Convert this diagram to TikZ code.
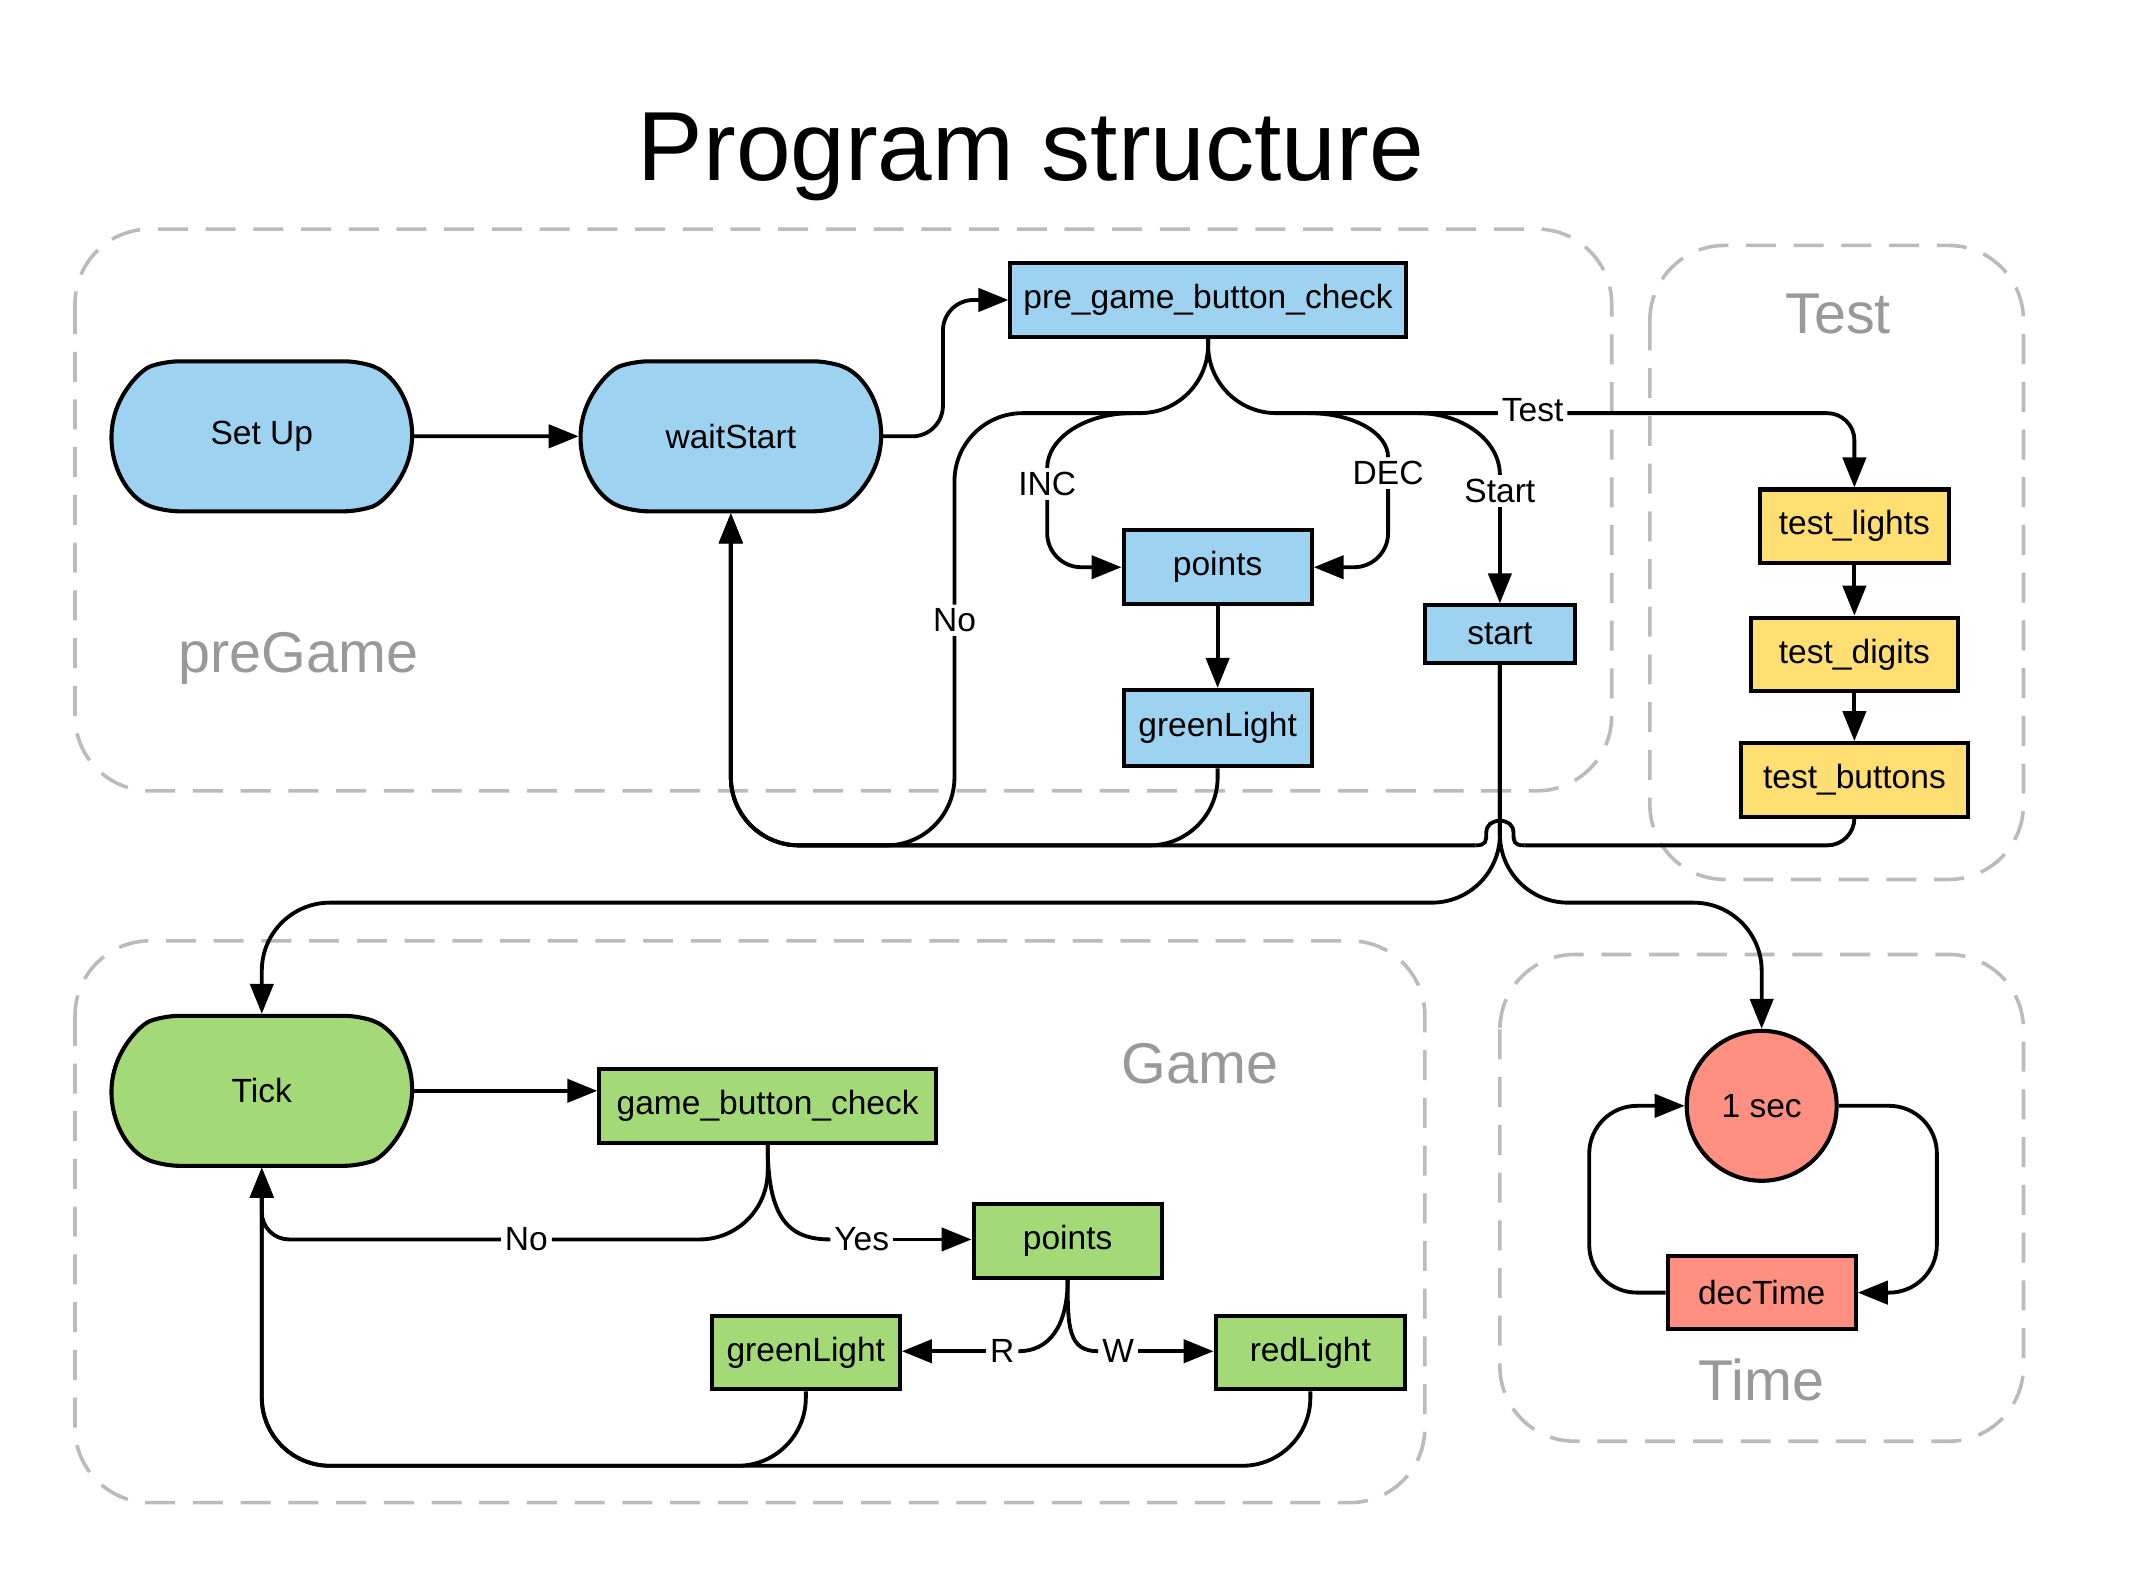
\documentclass[tikz,border=0pt]{standalone}
\usepackage{fontspec}
\setmainfont{Liberation Sans}
\usepackage{xcolor}
\usetikzlibrary{shapes.misc,arrows.meta,calc}

\definecolor{preblue}{HTML}{9DD3F1}
\definecolor{gamegreen}{HTML}{A3D977}
\definecolor{testyellow}{HTML}{FFDF71}
\definecolor{timesalmon}{HTML}{FF8F80}
\definecolor{groupgray}{HTML}{BBBBBB}
\definecolor{labelgray}{HTML}{999999}

\tikzset{
  txt/.style={font=\fontsize{14}{17}\selectfont},
  box/.style={rectangle, draw, line width=1.7pt, inner sep=0pt, minimum height=1.08cm, txt},
  pill/.style={rounded rectangle, rounded rectangle arc length=140, draw, line width=1.7pt,
    rounded corners=6pt, minimum width=4.64cm, minimum height=2.2cm, txt},
  grp/.style={draw=groupgray, line width=1.5pt, dash pattern=on 0.44cm off 0.26cm, rounded corners=1.1cm},
  grplabel/.style={text=labelgray, font=\fontsize{24}{29}\selectfont},
  lbl/.style={inner sep=1.5pt, txt},
  wire/.style={line width=1.6pt},
  arr/.style={line width=1.6pt, -{Triangle[length=0.44cm, width=0.34cm]}},
}

\begin{document}
\begin{tikzpicture}[x=0.02cm, y=-0.02cm]
  \useasboundingbox (0,0) rectangle (1568,1158);

  \node[font=\fontsize{41}{49}\selectfont] (title) at (756,115) {Program structure};

  \draw[grp] (55,168) rectangle (1182,580);
  \draw[grp] (1210,180) rectangle (1484,645);
  \draw[grp] (55,690) rectangle (1045,1102);
  \draw[grp] (1100,700) rectangle (1484,1057);
  \node[grplabel] (preGameLbl) at (219,483) {preGame};
  \node[grplabel] (testGrpLbl) at (1348,230) {Test};
  \node[grplabel] (gameLbl) at (880,780) {Game};
  \node[grplabel] (timeLbl) at (1292,1012) {Time};

  \node[pill, fill=preblue] (setup) at (192,320) {Set Up};
  \node[pill, fill=preblue] (waitStart) at (536,320) {waitStart};
  \node[box, fill=preblue, minimum width=5.8cm] (pgbc) at (886,220) {pre\_game\_button\_check};
  \node[box, fill=preblue, minimum width=2.76cm] (points) at (893,416) {points};
  \node[box, fill=preblue, minimum width=2.76cm, minimum height=1.12cm] (greenTop) at (893,534) {greenLight};
  \node[box, fill=preblue, minimum width=2.2cm, minimum height=0.84cm] (start) at (1100,465) {start};

  \node[box, fill=testyellow, minimum width=2.78cm] (tLights) at (1360,386) {test\_lights};
  \node[box, fill=testyellow, minimum width=3.04cm] (tDigits) at (1360,480) {test\_digits};
  \node[box, fill=testyellow, minimum width=3.32cm] (tButtons) at (1360,572) {test\_buttons};

  \node[pill, fill=gamegreen] (tick) at (192,800) {Tick};
  \node[box, fill=gamegreen, minimum width=4.94cm] (gbc) at (563,811) {game\_button\_check};
  \node[box, fill=gamegreen, minimum width=2.76cm] (pointsGame) at (783,910) {points};
  \node[box, fill=gamegreen, minimum width=2.76cm] (greenGame) at (591,992) {greenLight};
  \node[box, fill=gamegreen, minimum width=2.78cm] (redGame) at (961,992) {redLight};

  \node[circle, draw, line width=1.7pt, fill=timesalmon, minimum size=2.2cm, inner sep=0pt, txt] (sec) at (1292,811) {1 sec};
  \node[box, fill=timesalmon, minimum width=2.76cm] (decTime) at (1292,948) {decTime};

  \coordinate (topBus) at (0,303);
  \coordinate (backBus) at (0,620);
  \coordinate (splitBus) at (0,662);
  \coordinate (lowBus) at (0,1075);
  \coordinate (hop) at (start.south |- backBus);

  \node[lbl] (noLbl) at (700,455) {No};
  \node[lbl] (incLbl) at (768,355) {INC};
  \node[lbl] (decLbl) at (1018,347) {DEC};
  \node[lbl] (startLbl) at (1100,360) {Start};
  \node[lbl] (testLbl) at (1124,301) {Test};
  \node[lbl] (noGame) at (386,909) {No};
  \node[lbl] (yesGame) at (632,909) {Yes};
  \node[lbl] (rGame) at (735,991) {R};
  \node[lbl] (wGame) at (820,991) {W};

  \draw[arr] (setup) -- (waitStart);
  \draw[arr, rounded corners=0.45cm] (waitStart.east) -| ($(pgbc.west)+(-48,0)$) -- (pgbc.west);

  \draw[wire, rounded corners=1cm] (pgbc.south) |- (noLbl.north |- topBus) -- (noLbl.north);
  \draw[arr, rounded corners=1cm] (noLbl.south) |- (waitStart.south |- backBus) -- (waitStart.south);
  \draw[wire] ($(incLbl |- topBus)+(62,0)$) .. controls +(-34,0) and +(0,-22) .. (incLbl.north);
  \draw[arr, rounded corners=0.5cm] (incLbl.south) |- (points.west);
  \draw[wire, rounded corners=1cm] (pgbc.south) |- (testLbl.west |- topBus);
  \draw[arr, rounded corners=0.4cm] (testLbl.east |- topBus) -| (tLights.north);
  \draw[wire] ($(decLbl |- topBus)+(-58,0)$) .. controls +(32,0) and +(0,-18) .. (decLbl.north);
  \draw[arr, rounded corners=0.5cm] (decLbl.south) |- (points.east);
  \draw[wire] ($(startLbl |- topBus)+(-60,0)$) .. controls +(33,0) and +(0,-25) .. (startLbl.north);
  \draw[arr] (startLbl.south) -- (start.north);

  \draw[arr] (points) -- (greenTop);
  \draw[arr, rounded corners=1cm] (greenTop.south) |- (waitStart.south |- backBus) -- (waitStart.south);

  \draw[arr] (tLights) -- (tDigits);
  \draw[arr] (tDigits) -- (tButtons);
  \draw[wire, rounded corners=0.4cm] (tButtons.south) |- ($(hop)+(18,0)$);
  \draw[wire] ($(hop)+(18,0)$) .. controls +(-8,0) and +(0,6) .. ($(hop)+(10,-9)$)
    .. controls +(0,-6) and +(6,0) .. ($(hop)+(0,-18)$)
    .. controls +(-6,0) and +(0,-6) .. ($(hop)+(-10,-9)$)
    .. controls +(0,6) and +(8,0) .. ($(hop)+(-18,0)$);
  \draw[arr, rounded corners=1cm] ($(hop)+(-18,0)$) -| (waitStart.south);

  \draw[arr, rounded corners=1cm] (start.south) |- (tick.north |- splitBus) -- (tick.north);
  \draw[arr, rounded corners=1cm] (start.south) |- (sec.north |- splitBus) -- (sec.north);

  \draw[arr] (tick.east) -- (tick.east -| gbc.west);
  \draw[wire, rounded corners=1cm] (gbc.south) |- (noGame.east);
  \draw[arr, rounded corners=0.4cm] (noGame.west) -| (tick.south);
  \draw[wire] (gbc.south) .. controls +(0,55) and +(-30,0) .. (yesGame.west);
  \draw[arr] (yesGame.east) -- (yesGame.east -| pointsGame.west);
  \draw[wire] (pointsGame.south) .. controls +(0,35) and +(22,0) .. (rGame.east);
  \draw[arr] (rGame.west) -- (rGame.west -| greenGame.east);
  \draw[wire] (pointsGame.south) .. controls +(0,35) and +(-22,0) .. (wGame.west);
  \draw[arr] (wGame.east) -- (wGame.east -| redGame.west);
  \draw[arr, rounded corners=1cm] (greenGame.south) |- (tick.south |- lowBus) -- (tick.south);
  \draw[arr, rounded corners=1cm] (redGame.south) |- (tick.south |- lowBus) -- (tick.south);

  \draw[arr, rounded corners=0.7cm] (sec.east) -- ++(72,0) |- (decTime.east);
  \draw[arr, rounded corners=0.7cm] (decTime.west) -- ++(-56,0) |- (sec.west);
\end{tikzpicture}
\end{document}
